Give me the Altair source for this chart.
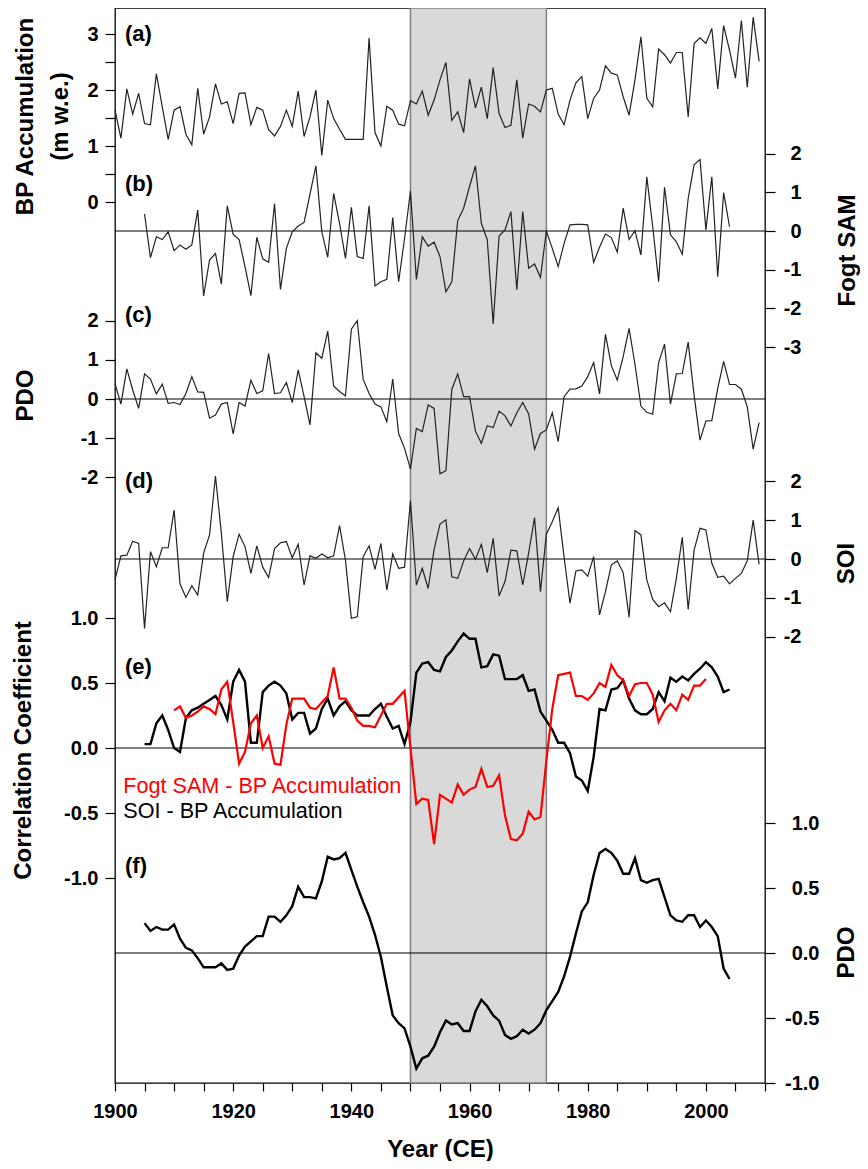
import altair as alt
import pandas as pd

# ---------------- data ----------------
bp_years = list(range(1900, 2010))
bp_accum = [1.64, 1.14, 2.02, 1.57, 1.94, 1.40, 1.38, 2.29, 1.70, 1.12,
            1.64, 1.70, 1.21, 1.02, 2.03, 1.21, 1.52, 2.11, 1.75, 1.79,
            1.40, 1.94, 1.95, 1.38, 1.69, 1.64, 1.29, 1.18, 1.35, 1.64,
            1.35, 1.98, 1.17, 1.52, 2.00, 0.83, 1.82, 1.49, 1.30, 1.12,
            1.12, 1.12, 1.12, 2.93, 1.24, 1.00, 1.71, 1.64, 1.39, 1.36,
            1.81, 1.75, 1.98, 1.55, 1.82, 2.18, 2.49, 1.46, 1.61, 1.24,
            2.20, 1.68, 2.05, 1.49, 2.40, 1.58, 1.33, 1.37, 2.18, 1.14,
            1.75, 1.71, 1.61, 2.00, 2.03, 1.57, 1.38, 1.82, 2.13, 2.24,
            1.49, 1.85, 2.00, 2.43, 2.30, 2.27, 1.88, 1.55, 2.18, 2.95,
            1.85, 1.70, 2.73, 2.63, 2.48, 2.67, 2.67, 1.52, 2.83, 2.93,
            2.83, 3.10, 2.02, 3.15, 2.71, 2.21, 3.24, 2.05, 3.30, 2.51]

sam_years = list(range(1905, 2005))
fogt_sam = [0.44, -0.69, -0.15, -0.22, -0.02, -0.51, -0.36, -0.47, -0.36, 0.54,
            -1.68, -0.75, -0.58, -1.37, 0.65, -0.09, -0.22, -0.92, -1.67, -0.16,
            -0.72, -0.81, 0.71, -1.51, -0.45, -0.02, 0.13, 0.22, 0.95, 1.68,
            -0.02, -0.68, 0.97, 0.20, -0.71, 0.61, -0.66, -0.71, 0.65, -1.42,
            -1.31, -1.25, 0.35, -1.31, -0.20, 1.03, -1.25, -0.15, -0.39, -0.29,
            -0.66, -1.57, -1.31, 0.27, 0.59, 1.15, 1.68, 0.20, -0.23, -2.40,
            -0.13, 0.03, 0.50, -1.52, 0.50, -0.96, -0.85, -1.20, 0.00, -0.45,
            -0.92, -0.32, 0.16, 0.17, 0.17, 0.16, -0.81, -0.42, -0.08, -0.17,
            -0.55, 0.59, -0.22, 0.01, -0.62, 1.40, 0.11, -1.31, 1.13, -0.10,
            -0.28, -0.60, 0.84, 1.71, 1.85, 0.03, 1.40, -1.18, 0.99, 0.11]

pdo_years = list(range(1900, 2010))
pdo_index = [0.40, -0.13, 0.77, 0.23, -0.24, 0.64, 0.51, 0.13, 0.38, -0.11,
             -0.09, -0.14, 0.14, 0.57, 0.18, 0.17, -0.49, -0.41, -0.13, -0.09,
             -0.89, -0.09, -0.18, 0.48, 0.14, 0.21, 1.16, 0.14, 0.16, 0.42,
             -0.09, 0.74, 0.06, -0.66, 1.18, 1.04, 1.73, 0.33, 0.19, 0.08,
             1.78, 2.00, 0.50, 0.14, -0.13, -0.20, -0.58, 0.51, -0.88, -1.26,
             -1.79, -0.75, -0.83, -0.15, -0.24, -1.91, -1.83, 0.25, 0.64, 0.06,
             0.06, -0.82, -1.13, -0.68, -0.73, -0.31, -0.43, -0.69, -0.35, -0.09,
             -0.38, -1.28, -0.88, -0.79, -0.35, -1.09, 0.06, 0.25, 0.26, 0.33,
             0.57, 0.93, 0.13, 1.65, 0.85, 0.48, 1.08, 1.80, 0.88, -0.18,
             -0.34, -0.39, 0.93, 1.40, -0.13, 0.64, 0.65, 1.45, 0.10, -1.05,
             -0.56, -0.55, 0.27, 0.96, 0.37, 0.37, 0.25, -0.20, -1.28, -0.60]

soi_years = list(range(1900, 2010))
soi_index = [-0.54, 0.08, 0.10, 0.46, 0.40, -1.79, 0.19, -0.20, 0.29, 0.29,
             1.26, -0.64, -0.99, -0.69, -0.93, 0.15, 0.62, 2.14, 0.66, -1.10,
             0.06, 0.64, 0.32, -0.37, 0.34, -0.21, -0.48, 0.27, 0.42, 0.45,
             0.03, 0.38, -0.67, 0.08, 0.02, 0.13, 0.03, 0.08, 0.86, -0.03,
             -1.53, -1.49, 0.06, 0.34, -0.27, 0.40, -0.80, 0.13, -0.24, -0.21,
             1.50, -0.67, -0.24, -0.76, 0.25, 0.90, 1.01, -0.46, -0.50, -0.05,
             0.27, -0.01, 0.38, -0.35, 0.53, -0.95, -0.58, 0.23, 0.21, -0.67,
             0.15, 1.07, -0.84, 0.64, 0.96, 1.32, 0.05, -1.14, -0.31, -0.28,
             -0.44, 0.06, -1.44, -0.84, -0.15, -0.05, -0.35, -1.50, 0.73, 0.62,
             -0.54, -1.04, -1.23, -1.13, -1.36, -0.50, 0.56, -1.30, 0.23, 0.79,
             0.75, -0.11, -0.47, -0.44, -0.64, -0.50, -0.37, -0.05, 1.00, -0.14]

soi_corr_years = list(range(1905, 2005))
soi_bp_corr = [0.03, 0.03, 0.19, 0.25, 0.14, 0.00, -0.03, 0.23, 0.29, 0.31,
               0.34, 0.37, 0.40, 0.33, 0.22, 0.51, 0.60, 0.51, 0.04, 0.04,
               0.43, 0.48, 0.51, 0.48, 0.42, 0.22, 0.27, 0.27, 0.11, 0.15,
               0.30, 0.38, 0.25, 0.32, 0.36, 0.29, 0.25, 0.25, 0.25, 0.30,
               0.34, 0.24, 0.15, 0.17, 0.03, 0.20, 0.58, 0.65, 0.66, 0.60,
               0.59, 0.70, 0.75, 0.82, 0.88, 0.84, 0.84, 0.62, 0.63, 0.72,
               0.71, 0.53, 0.53, 0.53, 0.56, 0.44, 0.45, 0.28, 0.21, 0.14,
               0.04, 0.04, -0.04, -0.22, -0.25, -0.33, -0.07, 0.30, 0.29, 0.45,
               0.46, 0.52, 0.38, 0.29, 0.26, 0.26, 0.30, 0.43, 0.36, 0.54,
               0.51, 0.55, 0.52, 0.57, 0.61, 0.66, 0.62, 0.55, 0.43, 0.45]

sam_corr_years = list(range(1910, 2001))
sam_bp_corr = [0.29, 0.32, 0.23, 0.25, 0.28, 0.32, 0.30, 0.26, 0.45, 0.51,
               0.20, -0.12, -0.03, 0.19, 0.25, 0.00, 0.09, -0.12, -0.13, 0.18,
               0.38, 0.38, 0.38, 0.31, 0.30, 0.35, 0.40, 0.62, 0.38, 0.38,
               0.31, 0.21, 0.17, 0.17, 0.16, 0.25, 0.34, 0.34, 0.39, 0.44,
               0.00, -0.43, -0.39, -0.40, -0.74, -0.36, -0.39, -0.42, -0.28, -0.36,
               -0.32, -0.30, -0.16, -0.30, -0.29, -0.21, -0.52, -0.70, -0.71, -0.66,
               -0.49, -0.55, -0.53, -0.10, 0.30, 0.56, 0.57, 0.58, 0.40, 0.40,
               0.37, 0.42, 0.50, 0.47, 0.64, 0.56, 0.52, 0.40, 0.49, 0.50,
               0.50, 0.41, 0.20, 0.29, 0.34, 0.29, 0.41, 0.37, 0.48, 0.48, 0.53]

pdo_smooth_years = list(range(1905, 2005))
pdo_smooth = [0.23, 0.17, 0.20, 0.18, 0.18, 0.22, 0.11, 0.04, 0.02, -0.04,
              -0.11, -0.11, -0.11, -0.08, -0.13, -0.12, -0.02, 0.05, 0.09, 0.13,
              0.13, 0.28, 0.28, 0.24, 0.29, 0.36, 0.51, 0.43, 0.43, 0.42,
              0.55, 0.74, 0.72, 0.73, 0.77, 0.64, 0.51, 0.39, 0.28, 0.14,
              -0.03, -0.26, -0.48, -0.54, -0.58, -0.72, -0.89, -0.81, -0.79, -0.72,
              -0.61, -0.52, -0.55, -0.54, -0.60, -0.60, -0.45, -0.36, -0.41, -0.48,
              -0.52, -0.63, -0.66, -0.64, -0.59, -0.62, -0.59, -0.54, -0.44, -0.37,
              -0.30, -0.18, -0.03, 0.15, 0.32, 0.39, 0.60, 0.77, 0.80, 0.77,
              0.71, 0.61, 0.61, 0.73, 0.56, 0.54, 0.56, 0.57, 0.43, 0.29,
              0.25, 0.24, 0.29, 0.29, 0.20, 0.25, 0.20, 0.13, -0.12, -0.20]

shade_start = [1950]
shade_end = [1973]
x_tick_years = list(range(1900, 2011, 5))
panel_letters = ["(a)", "(b)", "(c)", "(d)", "(e)", "(f)"]
legend_labels = ["Fogt SAM - BP Accumulation", "SOI - BP Accumulation"]

# ---------------- layout ----------------
W, H = 650, 1075
TOP, BOTTOM = 8, 1083          # page y of plot area top / bottom
FONT = "Liberation Sans"
INT_LABEL = "(datum.value < 0 ? '-' : '') + format(abs(datum.value), 'd')"
DEC_LABEL = "(datum.value < 0 ? '-' : '') + format(abs(datum.value), '.1f')"


def dom(zero_px, px_per_unit):
    return [(zero_px - BOTTOM) / px_per_unit, (zero_px - TOP) / px_per_unit]


AX = dict(domain=False, grid=False, tickColor="black", tickWidth=1.2,
          labelFont=FONT, labelFontSize=20, labelFontWeight="bold", labelColor="black",
          titleFont=FONT, titleFontSize=24, titleFontWeight="bold", titleColor="black",
          labelOverlap=False)

xscale = alt.Scale(domain=[1900, 2010], nice=False, zero=False)
xaxis_kw = dict(AX)
xaxis_kw.update(orient="bottom", values=x_tick_years,
                labelExpr="datum.value % 20 === 0 ? format(datum.value, 'd') : ''",
                labelAlign="center",
                title="Year (CE)", titleY=66, titleBaseline="middle",
                tickSize=8, labelPadding=10)
xaxis = alt.Axis(**xaxis_kw)   # the same shared axis definition on every layer


def X(field="year"):
    return alt.X(f"{field}:Q", scale=xscale, axis=xaxis)


def Y(d, axis=None):
    return alt.Y("v:Q", scale=alt.Scale(domain=d, nice=False, zero=False), axis=axis)


def yaxis(orient, values, title, tx, ty, expr, pad=7, lh=None):
    kw = dict(AX)
    kw.update(orient=orient, values=values, labelExpr=expr,
              title=title, titleX=tx, titleY=ty, titleAngle=270,
              titleAlign="center", titleBaseline="middle",
              tickSize=10, labelPadding=pad)
    if orient == "right":
        kw["labelAlign"] = "right"
    if lh:
        kw["titleLineHeight"] = lh
    return alt.Axis(**kw)


def line(years, vals, d, axis=None, color="#222222", width=1.2):
    df = pd.DataFrame({"year": years, "v": vals})
    return alt.Chart(df).mark_line(color=color, strokeWidth=width).encode(
        x=X(), y=Y(d, axis))


def zero(d):
    return alt.Chart(pd.DataFrame({"v": [0.0]})).mark_rule(
        color="black", strokeWidth=1.2).encode(y=Y(d))


def letter(i, yr, val, d):
    df = pd.DataFrame({"year": [yr], "v": [val], "t": [panel_letters[i]]})
    return alt.Chart(df).mark_text(
        align="left", baseline="middle", font=FONT, fontSize=22,
        fontWeight="bold", color="black").encode(x=X(), y=Y(d), text="t:N")


band = alt.Chart(pd.DataFrame({"start": shade_start, "end": shade_end})).mark_rect(
    fill="#d9d9d9", stroke="#808080", strokeWidth=1.5).encode(
    x=X("start"), x2="end:Q")

layers = [band]

# (a) BP accumulation, left axis
da = dom(202, 56.0)
ax_a = yaxis("left", [0, 0.5, 1, 1.5, 2, 2.5, 3], ["BP Accumulation", "(m w.e.)"],
             -90, 108, expr="datum.value % 1 === 0 ? format(datum.value, 'd') : ''", lh=35)
layers += [line(bp_years, bp_accum, da, ax_a), letter(0, 1901.7, 3.0, da)]

# (b) Fogt SAM, right axis
db = dom(231, 38.7)
ax_b = yaxis("right", [-3, -2, -1, 0, 1, 2], "Fogt SAM", 82, 242, INT_LABEL, pad=26)
layers += [zero(db), line(sam_years, fogt_sam, db, ax_b), letter(1, 1901.7, 1.21, db)]

# (c) PDO, left axis
dc = dom(399, 39.2)
ax_c = yaxis("left", [-2, -1, 0, 1, 2], "PDO", -90, 387, INT_LABEL)
layers += [zero(dc), line(pdo_years, pdo_index, dc, ax_c), letter(2, 1901.7, 2.15, dc)]

# (d) SOI, right axis
dd = dom(559, 38.8)
ax_d = yaxis("right", [-2, -1, 0, 1, 2], "SOI", 81, 555, INT_LABEL, pad=26)
layers += [zero(dd), line(soi_years, soi_index, dd, ax_d), letter(3, 1901.7, 2.0, dd)]

# (e) running correlations, left axis
de = dom(748, 130.0)
ax_e = yaxis("left", [-1.0, -0.5, 0.0, 0.5, 1.0], "Correlation Coefficient", -92, 742, DEC_LABEL)
leg = pd.DataFrame({"year": [1901.4, 1901.4], "v": [-0.30, -0.49],
                    "t": legend_labels, "c": ["#ff0000", "black"]})
legend_text = alt.Chart(leg).mark_text(
    align="left", baseline="middle", font=FONT, fontSize=21.6).encode(
    x=X(), y=Y(de), text="t:N",
    color=alt.Color("c:N", scale=None, legend=None))
layers += [zero(de),
           line(soi_corr_years, soi_bp_corr, de, ax_e, color="black", width=2.4),
           line(sam_corr_years, sam_bp_corr, de, None, color="#ff0000", width=2.2),
           legend_text, letter(4, 1901.7, 0.62, de)]

# (f) smoothed PDO, right axis
df_ = dom(953, 130.0)
ax_f = yaxis("right", [-1.0, -0.5, 0.0, 0.5, 1.0], "PDO", 81, 944, DEC_LABEL, pad=44)
layers += [zero(df_),
           line(pdo_smooth_years, pdo_smooth, df_, ax_f, color="black", width=2.4),
           letter(5, 1901.7, 0.67, df_)]

chart = alt.layer(*layers).resolve_scale(y="independent").properties(
    width=W, height=H,
    padding={"left": 107, "top": 0, "right": 95, "bottom": 78},
    autosize=alt.AutoSizeParams(type="none"),
    background="white",
).configure_view(stroke="black", strokeWidth=1.3)

chart.save("out.html", embed_options={"renderer": "svg", "actions": False})
